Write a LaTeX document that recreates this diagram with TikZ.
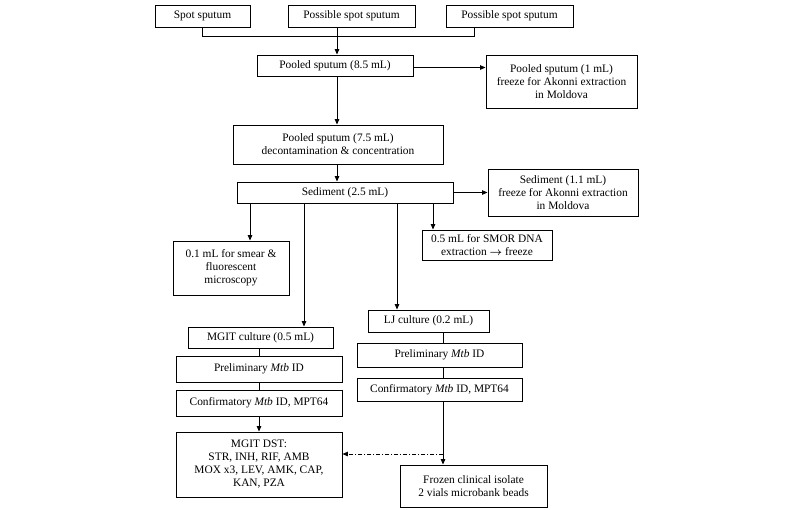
\documentclass[tikz,border=0pt]{standalone}
\usepackage{amsmath}
\usepackage{fontspec}
\setmainfont{Liberation Serif}
\usepackage{tikz}
\usetikzlibrary{positioning,calc,arrows.meta}

\begin{document}
\begin{tikzpicture}[x=1pt,y=-1pt,
    box/.style={draw,rectangle,line width=0.9pt,inner sep=1pt,align=center,font=\fontsize{11.4}{13}\selectfont},
    arr/.style={-{Triangle[length=5.5pt,width=4.5pt]},line width=0.9pt},
    ln/.style={line width=0.9pt}]
    \useasboundingbox (0,0) rectangle (800,509);

    % Sputum samples
    \node[box,minimum width=95,minimum height=22] (spotA) at (202.5,16) {Spot sputum};
    \node[box,minimum width=127,minimum height=22] (spotB) at (351.5,16) {Possible spot sputum};
    \node[box,minimum width=127,minimum height=22] (spotC) at (509.5,16) {Possible spot sputum};
    \coordinate (join) at (337,36);
    \draw[ln] (spotA.south) |- (join);
    \draw[ln] ([xshift=-35pt]spotC.south) |- (join);
    \draw[ln] (spotB.south -| join) -- (join);

    % Pooling
    \node[box,minimum width=156,minimum height=21] (pooledA) at (335,65.5) {Pooled sputum (8.5 mL)};
    \node[box,minimum width=151,minimum height=53] (freezeA) at (561.5,81.5) {Pooled sputum (1 mL)\\freeze for Akonni extraction\\in Moldova};
    \draw[arr] (join) -- (join |- pooledA.north);
    \draw[arr] ([yshift=-2pt]pooledA.east) -- ([yshift=-2pt]pooledA.east -| freezeA.west);

    \node[box,minimum width=210,minimum height=39] (pooledB) at (338,144.5) {Pooled sputum (7.5 mL)\\decontamination \& concentration};
    \draw[arr] (join |- pooledA.south) -- (join |- pooledB.north);

    % Sediment
    \node[box,minimum width=216,minimum height=21] (sed) at (345,192.5) {Sediment (2.5 mL)};
    \node[box,minimum width=150,minimum height=47] (freezeB) at (563,192.5) {Sediment (1.1 mL)\\freeze for Akonni extraction\\in Moldova};
    \draw[arr] (join |- pooledB.south) -- (join |- sed.north);
    \draw[arr] (sed.east) -- (freezeB.west);

    \node[box,minimum width=116,minimum height=54] (smear) at (231,268) {0.1 mL for smear \&\\fluorescent\\microscopy};
    \node[box,minimum width=130,minimum height=30] (smor) at (487,245) {0.5 mL for SMOR DNA\\extraction $\boldsymbol{\rightarrow}$ freeze};
    \draw[arr] ([xshift=-95pt]sed.south) -- ([xshift=-95pt]sed.south |- smear.north);
    \draw[arr] ([xshift=88pt]sed.south) -- ([xshift=88pt]sed.south |- smor.north);

    % MGIT branch
    \node[box,minimum width=145,minimum height=21] (mgit) at (260.5,337.5) {MGIT culture (0.5 mL)};
    \node[box,minimum width=166,minimum height=26] (prelimA) at (259,369) {Preliminary \textit{Mtb} ID};
    \node[box,minimum width=166,minimum height=26] (confA) at (259,403) {Confirmatory \textit{Mtb} ID, MPT64};
    \node[box,minimum width=166,minimum height=65] (dst) at (259,464.5) {MGIT DST:\\STR, INH, RIF, AMB\\MOX x3, LEV, AMK, CAP,\\KAN, PZA};
    \draw[arr] ([xshift=-41pt]sed.south) -- ([xshift=-41pt]sed.south |- mgit.north);
    \draw[ln] (mgit.south -| prelimA) -- (prelimA.north);
    \draw[ln] (prelimA.south) -- (confA.north);
    \draw[arr] (confA.south) -- (dst.north);

    % LJ branch
    \node[box,minimum width=121,minimum height=22] (lj) at (428.5,321) {LJ culture (0.2 mL)};
    \node[box,minimum width=165,minimum height=24] (prelimB) at (439.5,355) {Preliminary \textit{Mtb} ID};
    \node[box,minimum width=165,minimum height=23] (confB) at (439.5,389.5) {Confirmatory \textit{Mtb} ID, MPT64};
    \node[box,minimum width=147,minimum height=42] (frozen) at (473.5,486) {Frozen clinical isolate\\2 vials microbank beads};
    \coordinate (split) at (443,454);
    \draw[arr] ([xshift=52pt]sed.south) -- ([xshift=52pt]sed.south |- lj.north);
    \draw[ln] (lj.south -| split) -- (prelimB.north -| split);
    \draw[ln] (prelimB.south -| split) -- (confB.north -| split);
    \draw[arr] (confB.south -| split) -- (frozen.north -| split);
    \draw[arr,dash pattern=on 4pt off 2pt on 1pt off 2pt] (split) -- (split -| dst.east);
\end{tikzpicture}
\end{document}
